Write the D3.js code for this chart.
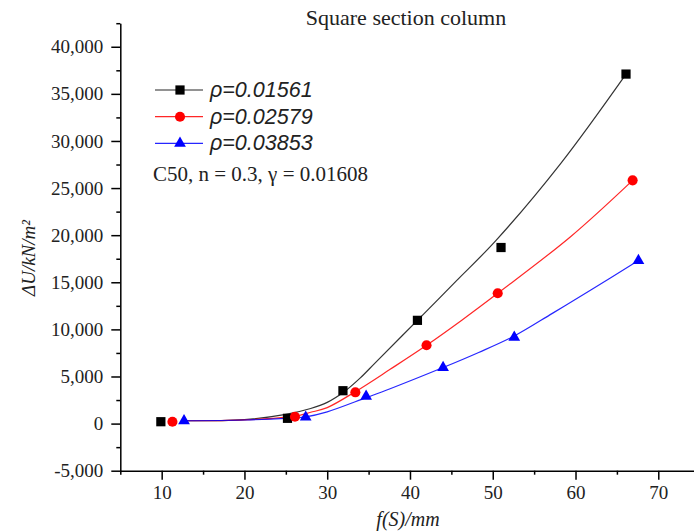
<!DOCTYPE html>
<html>
<head>
<meta charset="utf-8">
<script src="https://cdn.jsdelivr.net/npm/d3@7/dist/d3.min.js"></script>
<style>
body { margin: 0; background: #fff; }
</style>
</head>
<body>
<div id="root"></div>
<script>
var width = 694;
var height = 532;

// measured points, f(S) in mm and dU in kN/m2
var fsBlack = [9.9, 25.2, 31.9, 40.9, 51.0, 66.1];
var duBlack = [200, 560, 3490, 10960, 18690, 37100];
var fsRed = [11.3, 26.1, 33.4, 42.0, 50.6, 66.9];
var duRed = [200, 730, 3320, 8310, 13830, 25820];
var fsBlue = [12.7, 27.4, 34.7, 44.0, 52.6, 67.6];
var duBlue = [300, 680, 2900, 5950, 9150, 17300];

// fitted curves
var fitFsBlack = [12.7, 20, 25, 28, 30, 32, 34, 35.8, 40.9, 45.6, 50.4, 58.2, 66.1];
var fitDuBlack = [300, 430, 980, 1600, 2250, 3350, 4850, 6450, 10960, 15150, 19450, 27600, 37100];
var fitFsRed = [12.7, 20, 26.1, 28, 30, 33.4, 37.6, 42.0, 46.3, 50.6, 59.4, 66.9];
var fitDuRed = [300, 390, 800, 1200, 1700, 3390, 5760, 8310, 11000, 13830, 19840, 25820];
var fitFsBlue = [12.7, 20, 25, 27.4, 30, 34.7, 37.6, 44.0, 48.3, 52.6, 57.2, 61.8, 67.6];
var fitDuBlue = [300, 380, 560, 720, 1250, 2750, 3700, 5950, 7550, 9300, 11700, 14150, 17300];

var seriesNames = ["ρ=0.01561", "ρ=0.02579", "ρ=0.03853"];
var seriesColors = ["#000000", "#ff0000", "#0000ff"];
var seriesSymbols = [d3.symbolSquare, d3.symbolCircle, d3.symbolTriangle];
var symbolSizes = [85, 80, 60];

var xTicks = [10, 20, 30, 40, 50, 60, 70];
var xTickLabels = ["10", "20", "30", "40", "50", "60", "70"];
var xMinor = [5, 15, 25, 35, 45, 55, 65];
var yTicks = [-5000, 0, 5000, 10000, 15000, 20000, 25000, 30000, 35000, 40000];
var yTickLabels = ["-5,000", "0", "5,000", "10,000", "15,000", "20,000", "25,000", "30,000", "35,000", "40,000"];
var yMinor = [-2500, 2500, 7500, 12500, 17500, 22500, 27500, 32500, 37500, 42500];

var serif = "'Times New Roman', 'Liberation Serif', serif";
var sans = "Arial, 'Liberation Sans', sans-serif";

var svg = d3.select("#root")
	.append("svg")
	.attr("width", width)
	.attr("height", height)
	.style("background", "#fff");

var x = d3.scaleLinear().domain([5, 74.4]).range([120.3, 694.7]);
var y = d3.scaleLinear().domain([-5000, 42500]).range([470.7, 23.2]);

/* axes */
function styleAxis(g) {
	g.attr("font-family", serif).attr("font-size", 19);
	g.select(".domain").attr("stroke", "#000").attr("stroke-width", 1.5);
	g.selectAll(".tick line").attr("stroke", "#000").attr("stroke-width", 1.5);
	g.selectAll(".tick text").attr("fill", "#222");
}

svg.append("g")
	.attr("transform", "translate(0,470.7)")
	.call(d3.axisBottom(x).tickValues(xMinor).tickFormat("").tickSize(4).tickSizeOuter(0))
	.call(styleAxis)
	.call(g => g.select(".domain").remove());

svg.append("g")
	.attr("transform", "translate(120.3,0)")
	.call(d3.axisLeft(y).tickValues(yMinor).tickFormat("").tickSize(4).tickSizeOuter(0))
	.call(styleAxis)
	.call(g => g.select(".domain").remove());

svg.append("g")
	.attr("transform", "translate(0,470.7)")
	.call(d3.axisBottom(x).tickValues(xTicks).tickFormat((d, i) => xTickLabels[i]).tickSize(9).tickSizeOuter(0).tickPadding(6))
	.call(styleAxis);

svg.append("g")
	.attr("transform", "translate(120.3,0)")
	.call(d3.axisLeft(y).tickValues(yTicks).tickFormat((d, i) => yTickLabels[i]).tickSize(9).tickSizeOuter(0).tickPadding(8))
	.call(styleAxis);

/* titles */
svg.append("text")
	.attr("x", 406)
	.attr("y", 25)
	.attr("text-anchor", "middle")
	.attr("font-family", serif)
	.attr("font-size", 22)
	.attr("fill", "#222")
	.text("Square section column");

svg.append("text")
	.attr("x", 408)
	.attr("y", 526)
	.attr("text-anchor", "middle")
	.attr("font-family", serif)
	.attr("font-style", "italic")
	.attr("font-size", 20)
	.attr("fill", "#222")
	.text("f(S)/mm");

svg.append("text")
	.attr("transform", "translate(35,258) rotate(-90)")
	.attr("text-anchor", "middle")
	.attr("font-family", serif)
	.attr("font-style", "italic")
	.attr("font-size", 19)
	.attr("fill", "#222")
	.text("ΔU/kN/m²");

/* curves and points */
var fits = [
	d3.zip(fitFsBlack, fitDuBlack),
	d3.zip(fitFsRed, fitDuRed),
	d3.zip(fitFsBlue, fitDuBlue)
];
var points = [
	d3.zip(fsBlack, duBlack),
	d3.zip(fsRed, duRed),
	d3.zip(fsBlue, duBlue)
];

var line = d3.line()
	.x(d => x(d[0]))
	.y(d => y(d[1]))
	.curve(d3.curveCatmullRom.alpha(0.5));

svg.append("g")
	.selectAll("path")
	.data(fits)
	.enter()
	.append("path")
	.attr("fill", "none")
	.attr("stroke", (d, i) => seriesColors[i])
	.attr("stroke-opacity", (d, i) => i == 0 ? 0.8 : 0.85)
	.attr("stroke-width", 1.2)
	.attr("d", line);

points.forEach(function(pts, i) {
	svg.append("g")
		.selectAll("path")
		.data(pts)
		.enter()
		.append("path")
		.attr("transform", d => "translate(" + x(d[0]) + "," + y(d[1]) + ")")
		.attr("fill", seriesColors[i])
		.attr("d", d3.symbol().type(seriesSymbols[i]).size(symbolSizes[i]));
});

/* legend */
var legend = svg.append("g")
	.selectAll("g")
	.data(seriesNames)
	.enter()
	.append("g")
	.attr("transform", (d, i) => "translate(0," + (90 + i * 26.7) + ")");

legend.append("line")
	.attr("x1", 155)
	.attr("x2", 203)
	.attr("stroke", (d, i) => seriesColors[i])
	.attr("stroke-opacity", 0.85)
	.attr("stroke-width", 1.2);

legend.append("path")
	.attr("transform", "translate(180,0)")
	.attr("fill", (d, i) => seriesColors[i])
	.attr("d", (d, i) => d3.symbol().type(seriesSymbols[i]).size(symbolSizes[i])());

legend.append("text")
	.attr("x", 210)
	.attr("y", 7)
	.attr("font-family", sans)
	.attr("font-style", "italic")
	.attr("font-size", 21.5)
	.attr("fill", "#222")
	.text(d => d);

svg.append("text")
	.attr("x", 153)
	.attr("y", 181)
	.attr("font-family", serif)
	.attr("font-size", 21)
	.attr("fill", "#222")
	.text("C50, n = 0.3, γ = 0.01608");
</script>
</body>
</html>
